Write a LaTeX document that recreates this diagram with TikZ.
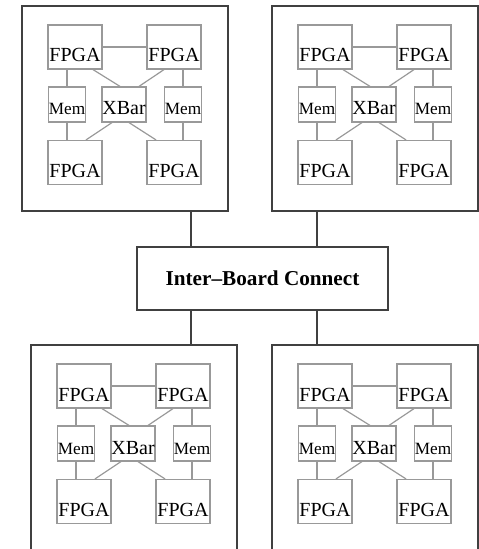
\documentclass[tikz,border=0pt]{standalone}
\usepackage{fontspec}
\setmainfont{Liberation Serif}
\usetikzlibrary{calc}

\begin{document}
\begin{tikzpicture}[x=0.5pt,y=-0.5pt,
  board/.style={draw=black!75,line width=0.8pt,minimum width=103pt,minimum height=102.5pt,inner sep=0pt},
  chip/.style={draw=black!40,line width=0.6pt,inner sep=0pt,font=\fontsize{10}{12}\selectfont},
  fpga/.style={chip,minimum width=27pt,minimum height=22pt,text height=15pt,text depth=0pt},
  mem/.style={chip,minimum width=18pt,minimum height=17.5pt,text height=10.5pt,text depth=0pt,font=\fontsize{8.6}{10}\selectfont},
  xbar/.style={chip,minimum width=22pt,minimum height=17.5pt,text height=10.5pt,text depth=0pt},
  wire/.style={draw=black!40,line width=0.6pt},
  link/.style={draw=black!75,line width=0.8pt}]
\useasboundingbox (0,0) rectangle (478,549);

% the four boards
\foreach \k/\bx/\by in {1/22/6, 2/272/6, 3/31/345, 4/272/345} {
  \node[board] (board\k) at (\bx+103,\by+102.5) {};
  \begin{scope}[shift={(\bx,\by)}]
    \node[fpga] (fpgaA\k) at (53,41) {FPGA};
    \node[fpga] (fpgaB\k) at (152,41) {FPGA};
    \node[mem]  (memL\k)  at (45,98.5) {Mem};
    \node[xbar] (xbar\k)  at (102,98.5) {XBar};
    \node[mem]  (memR\k)  at (161,98.5) {Mem};
    \node[fpga] (fpgaC\k) at (53,156.5) {FPGA};
    \node[fpga] (fpgaD\k) at (152,156.5) {FPGA};
  \end{scope}
  \draw[wire] (fpgaA\k) -- (fpgaB\k);
  \draw[wire] (memL\k.north) -- (memL\k.north |- fpgaA\k.south);
  \draw[wire] (memL\k.south) -- (memL\k.south |- fpgaC\k.north);
  \draw[wire] (memR\k.north) -- (memR\k.north |- fpgaB\k.south);
  \draw[wire] (memR\k.south) -- (memR\k.south |- fpgaD\k.north);
  \draw[wire] ($(fpgaA\k.south)+(18,0)$) -- ($(xbar\k.north)+(-4,0)$);
  \draw[wire] ($(fpgaB\k.south)+(-10,0)$) -- ($(xbar\k.north)+(15,0)$);
  \draw[wire] ($(xbar\k.south)+(-12,0)$) -- ($(fpgaC\k.north)+(11,0)$);
  \draw[wire] ($(xbar\k.south)+(5,0)$) -- ($(fpgaD\k.north)+(-18,0)$);
}

% interconnect
\node[board,minimum width=125.5pt,minimum height=31.5pt,font=\fontsize{10.6}{12}\selectfont\bfseries]
  (ibc) at (262.5,278.5) {Inter--Board Connect};
\coordinate (lnA) at (191,0);
\coordinate (lnB) at (317,0);
\draw[link] (board1.south -| lnA) -- (ibc.north -| lnA);
\draw[link] (board2.south -| lnB) -- (ibc.north -| lnB);
\draw[link] (ibc.south -| lnA) -- (board3.north -| lnA);
\draw[link] (ibc.south -| lnB) -- (board4.north -| lnB);
\end{tikzpicture}
\end{document}
